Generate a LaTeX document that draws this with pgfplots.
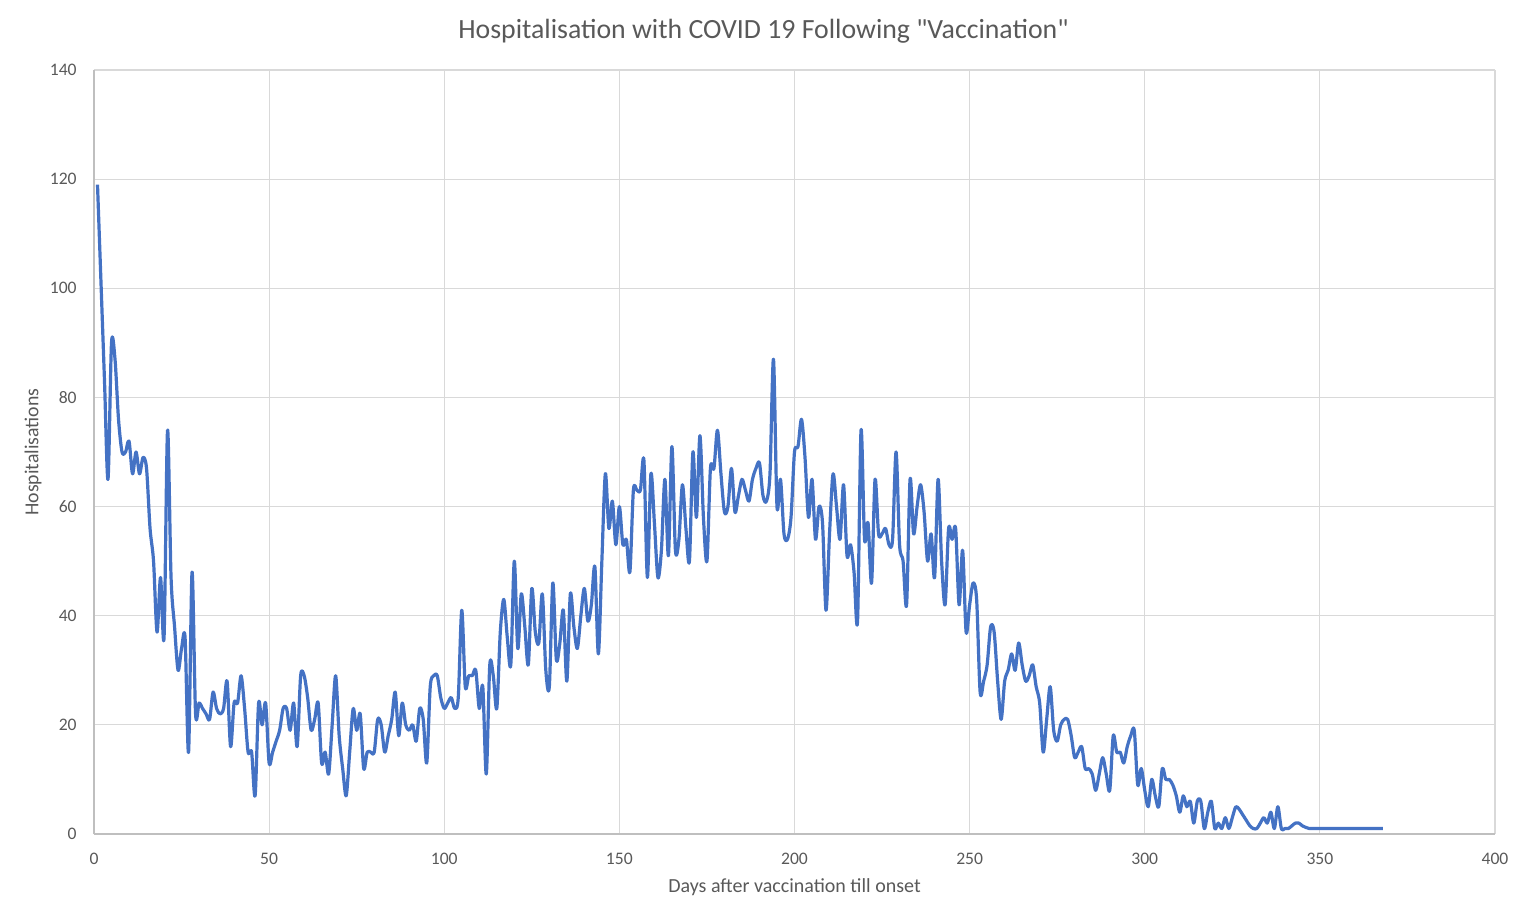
\documentclass[border=0pt]{standalone}
\usepackage{fontspec}
\setmainfont{Carlito}[Ligatures=TeXOff]
\usepackage{pgfplots}
\pgfplotsset{compat=1.18}
\usepackage{pgfplotstable}
\definecolor{txt}{HTML}{595959}
\definecolor{grd}{HTML}{D9D9D9}
\definecolor{axc}{HTML}{BFBFBF}
\definecolor{ln}{HTML}{4472C4}
\pgfplotstableread{
x y
1 119
2 101
3 83
4 65
5 90
6 87
7 76
8 70
9 70
10 72
11 66
12 70
13 66
14 69
15 67
16 56
17 50
18 37
19 47
20 36
21 74
22 47
23 38
24 30
25 34
26 36
27 15
28 48
29 22
30 24
31 23
32 22
33 21
34 26
35 23
36 22
37 23
38 28
39 16
40 24
41 24
42 29
43 23
44 15
45 15
46 7
47 24
48 20
49 24
50 13
51 15
52 17
53 19
54 23
55 23
56 19
57 24
58 16
59 29
60 29
61 25
62 19
63 21
64 24
65 13
66 15
67 11
68 20
69 29
70 18
71 12
72 7
73 15
74 23
75 19
76 22
77 12
78 15
79 15
80 15
81 21
82 20
83 15
84 18
85 21
86 26
87 18
88 24
89 20
90 19
91 20
92 17
93 23
94 21
95 13
96 27
97 29
98 29
99 25
100 23
101 24
102 25
103 23
104 25
105 41
106 27
107 29
108 29
109 30
110 23
111 27
112 11
113 31
114 29
115 23
116 37
117 43
118 36
119 31
120 50
121 34
122 44
123 38
124 31
125 45
126 37
127 35
128 44
129 30
130 27
131 46
132 32
133 35
134 41
135 28
136 44
137 38
138 34
139 40
140 45
141 39
142 42
143 49
144 33
145 50
146 66
147 56
148 61
149 53
150 60
151 53
152 54
153 48
154 63
155 63
156 63
157 68.5
158 47
159 66
160 57
161 47
162 52
163 65
164 51
165 71
166 52
167 54
168 64
169 56
170 50
171 70
172 58
173 73
174 58
175 50
176 67
177 67
178 74
179 66
180 59
181 60
182 67
183 59
184 62
185 65
186 63
187 61
188 65
189 67
190 68
191 62
192 61
193 66
194 87
195 60
196 65
197 55
198 54
199 58
200 70
201 71
202 76
203 69
204 58
205 65
206 54
207 60
208 57
209 41
210 55
211 66
212 60
213 54
214 64
215 51
216 53
217 48
218 39
219 74
220 54
221 57
222 46
223 65
224 55
225 55
226 56
227 53
228 54
229 70
230 53
231 50
232 42
233 65
234 55
235 60
236 64
237 59
238 50
239 55
240 47
241 65
242 50
243 42
244 56
245 54
246 56
247 42
248 52
249 37
250 42
251 46
252 43
253 26
254 28
255 31
256 38
257 37
258 28
259 21
260 28
261 30
262 33
263 30
264 35
265 31
266 28
267 29
268 31
269 27
270 24
271 15
272 21
273 27
274 19
275 17
276 20
277 21
278 21
279 18
280 14
281 15
282 16
283 12
284 12
285 11
286 8
287 11
288 14
289 11
290 8
291 18
292 15
293 15
294 13
295 16
296 18
297 19
298 9
299 12
300 8
301 5
302 10
303 7
304 5
305 12
306 10
307 10
308 9
309 7
310 4
311 7
312 5
313 6
314 2
315 6
316 6
317 1
318 4
319 6
320 1
321 2
322 1
323 3
324 1
325 3
326 5
327 4.5
328 3.5
329 2.5
330 1.5
331 1
332 1
333 2
334 3
335 2
336 4
337 1
338 5
339 1
340 1
341 1
342 1.5
343 2
344 2
345 1.5
346 1.2
347 1
348 1
352 1
356 1
360 1
364 1
368 1
}\datatab

\begin{document}
\begin{tikzpicture}
\useasboundingbox (0,0) rectangle (762.5pt,458pt);
\begin{axis}[
  at={(47pt,41pt)}, anchor=south west,
  scale only axis, width=700.5pt, height=382pt,
  xmin=0, xmax=400, ymin=0, ymax=140,
  xtick={0,50,...,400}, ytick={0,20,...,140},
  axis lines*=left,
  axis line style={axc, line width=0.6pt, -},
  grid=major,
  major grid style={grd, line width=0.6pt},
  major tick length=0pt,
  tick label style={font=\fontsize{8.8}{10}\selectfont, text=txt, inner sep=0pt},
  xticklabel style={anchor=center, yshift=-12.3pt},
  yticklabel style={anchor=east, xshift=-8.5pt},
  /pgf/number format/assume math mode=true,
  xlabel={Days after vaccination till onset},
  ylabel={Hospitalisations},
  xlabel style={at={(axis description cs:0.5,0)}, anchor=center, yshift=-26.5pt, font=\fontsize{10}{12}\selectfont, text=txt},
  ylabel style={at={([xshift=-30.5pt]axis description cs:0,0.5)}, anchor=center, font=\fontsize{9.9}{12}\selectfont, text=txt},
  title={Hospitalisation with COVID 19 Following "Vaccination"},
  title style={at={(axis description cs:0.5,1)}, anchor=center, yshift=19.5pt, xshift=-15.5pt, font=\fontsize{13.9}{16}\selectfont, text=txt},
  every axis title shift=0pt,
  clip=false,
]
\addplot[ln, line width=1.6pt, smooth, tension=0.5, line join=round] table[x=x, y=y] {\datatab};
\end{axis}
\end{tikzpicture}
\end{document}
